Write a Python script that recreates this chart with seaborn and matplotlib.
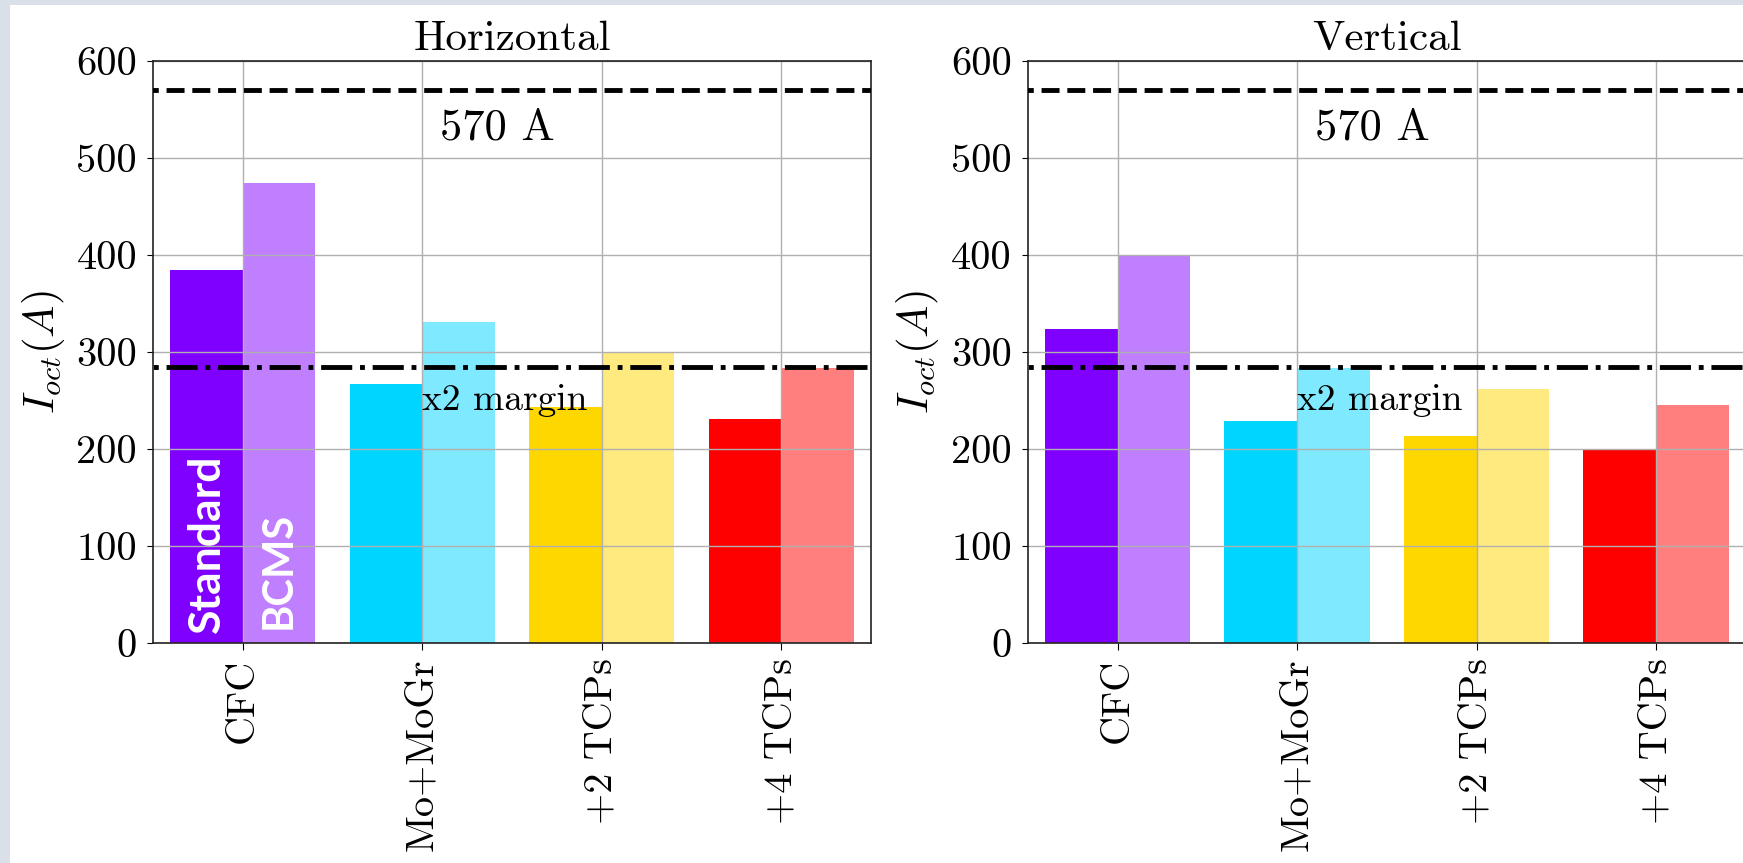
import matplotlib
matplotlib.use("Agg")
import matplotlib.pyplot as plt
import pandas as pd
import seaborn as sns
from matplotlib.patches import Rectangle

# ---- data ----
categories = ["CFC", "Mo+MoGr", "+2 TCPs", "+4 TCPs"]
configs = ["Standard", "BCMS"]
horizontal_standard = [385, 267, 243, 231]
horizontal_bcms = [474, 331, 299, 283]
vertical_standard = [324, 229, 213, 199]
vertical_bcms = [399, 283, 262, 245]
base_colors = ["#8000ff", "#00d5ff", "#ffd700", "#ff0000"]
limit_current = 570
margin_current = limit_current / 2
yticks = [0, 100, 200, 300, 400, 500, 600]
panel_titles = ["Horizontal", "Vertical"]

# ---- style ----
plt.rcParams["font.family"] = ["cmr10", "DejaVu Serif"]
plt.rcParams["mathtext.fontset"] = "cm"
plt.rcParams["axes.formatter.use_mathtext"] = True
plt.rcParams["axes.unicode_minus"] = False

W, H = 1743, 863
fig = plt.figure(figsize=(W / 100, H / 100), dpi=100, facecolor="white")

# slide border strips
fig.patches.append(Rectangle((0, 0), 10 / W, 1, transform=fig.transFigure,
                             facecolor="#d9e0e7", edgecolor="none", zorder=0))
fig.patches.append(Rectangle((0, 1 - 5 / H), 1, 5 / H, transform=fig.transFigure,
                             facecolor="#d9e0e7", edgecolor="none", zorder=0))

ax_w = 718 / W
ax_b = (H - 643) / H
ax_h = 582 / H
axes = [fig.add_axes([153 / W, ax_b, ax_w, ax_h]),
        fig.add_axes([1027.8 / W, ax_b, ax_w, ax_h])]

panel_data = [(horizontal_standard, horizontal_bcms),
              (vertical_standard, vertical_bcms)]

for ax, title, (std, bcms) in zip(axes, panel_titles, panel_data):
    df = pd.DataFrame({
        "category": categories * 2,
        "config": ["Standard"] * len(categories) + ["BCMS"] * len(categories),
        "current": list(std) + list(bcms),
    })
    sns.barplot(data=df, x="category", y="current", hue="config",
                order=categories, hue_order=configs,
                palette=["#808080", "#808080"], saturation=1,
                width=0.81, gap=0, linewidth=0, legend=False, ax=ax)
    for j, container in enumerate(ax.containers):
        for i, patch in enumerate(container.patches):
            patch.set_facecolor(base_colors[i])
            patch.set_alpha(1.0 if j == 0 else 0.5)

    # reference levels
    ax.hlines(limit_current, -1, 4, colors="black", linestyles="--", lw=3.5, zorder=3)
    ax.hlines(margin_current, -1, 4, colors="black", linestyles="-.", lw=3.5, zorder=3)
    ax.text(1.1, 519, f"{limit_current} A", fontsize=32, ha="left", va="baseline")
    ax.text(1.0, 240, "x2 margin", fontsize=27, ha="left", va="baseline")

    ax.set_xlim(-0.5, 3.5)
    ax.set_ylim(0, 600)
    ax.set_yticks(yticks)
    ax.set_yticklabels([str(t) for t in yticks])
    ax.set_xticks(range(len(categories)))
    ax.set_xticklabels(categories, rotation=90)
    ax.tick_params(axis="both", labelsize=29, direction="out", color="black")
    ax.tick_params(axis="y", length=4.5, pad=7)
    ax.tick_params(axis="x", length=5, pad=6)
    ax.set_xlabel("")
    ax.set_ylabel(r"$I_{oct}(A)$", fontsize=31, labelpad=7)
    ax.set_title(title, fontsize=31, pad=8)

    ax.set_axisbelow("line")
    ax.grid(True, axis="both", color="#b0b0b0", lw=1.0)
    for s in ax.spines.values():
        s.set_color("#222222")
        s.set_linewidth(1.2)

# configuration labels written on the first group
axes[0].text(-0.2, 10, "Standard", rotation=90, ha="center", va="bottom",
             color="white", fontweight="bold", family="Lato", fontsize=32)
axes[0].text(0.2, 14, "BCMS", rotation=90, ha="center", va="bottom",
             color="white", fontweight="bold", family="Lato", fontsize=30)

fig.savefig("out.png", dpi=100, facecolor="white")
